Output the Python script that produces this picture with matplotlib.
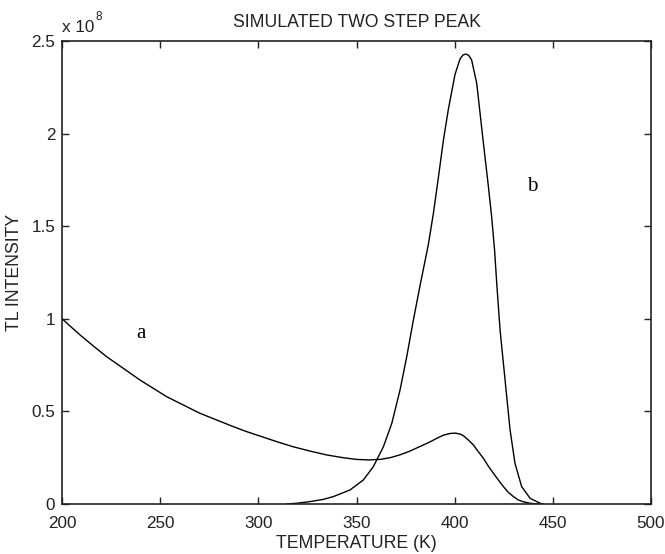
import matplotlib
matplotlib.use("Agg")
import matplotlib.pyplot as plt
from matplotlib.ticker import FuncFormatter

SCALE = 1e8

# Curve a: temperature (K) and TL intensity (units of 1e8)
temp_a = [200, 203.9, 209, 215.8, 222.6, 231.1, 239.6, 246.4, 253.2, 261.7,
          270.2, 278.7, 287.2, 294, 300.8, 309.3, 317.8, 326.3, 334.8, 343.3,
          350, 356, 362, 367.1, 372, 377.3, 382, 386.6, 391, 394.3,
          397.7, 400.3, 402.8, 404.5, 407, 409.6, 412.1, 414.7, 417.2, 419.8,
          422.3, 424.9, 427.4, 430, 432.5, 435, 438.5, 442, 445]
int_a = [1.0, 0.962, 0.914, 0.854, 0.796, 0.733, 0.67, 0.625, 0.58, 0.535,
         0.49, 0.454, 0.418, 0.391, 0.367, 0.337, 0.309, 0.286, 0.265, 0.25,
         0.241, 0.238, 0.241, 0.25, 0.265, 0.286, 0.309, 0.331, 0.355, 0.372,
         0.381, 0.383, 0.378, 0.369, 0.346, 0.319, 0.283, 0.247, 0.205, 0.166,
         0.13, 0.094, 0.063, 0.04, 0.022, 0.012, 0.004, 0.0, 0.0]

# Curve b
temp_b = [314.4, 319.5, 326.3, 333.1, 338.2, 346.7, 353.5, 358.6, 363.7, 368,
          372.2, 375.6, 379, 382.4, 384.4, 386.6, 389.2, 391.7, 394.3, 396.8,
          398.5, 400.2, 402.8, 404.3, 405.7, 407.2, 408.7, 411.3, 413, 414.7,
          417.2, 418.9, 420.4, 421.5, 423.2, 424.9, 426.6, 428.3, 430.8, 434.2,
          438.5, 443.6, 445]
int_b = [0.0, 0.004, 0.013, 0.025, 0.04, 0.076, 0.13, 0.202, 0.309, 0.436,
         0.616, 0.795, 0.994, 1.18, 1.285, 1.40, 1.57, 1.76, 1.965, 2.13,
         2.225, 2.32, 2.405, 2.426, 2.431, 2.424, 2.399, 2.273, 2.111, 1.95,
         1.72, 1.552, 1.372, 1.192, 0.94, 0.76, 0.58, 0.40, 0.22, 0.094,
         0.031, 0.004, 0.0]

x_ticks = [200, 250, 300, 350, 400, 450, 500]
y_ticks = [0, 0.5, 1, 1.5, 2, 2.5]

plt.rcParams['font.family'] = ['Liberation Sans', 'DejaVu Sans']

fig = plt.figure(figsize=(6.65, 5.54), dpi=100)
ax = fig.add_axes([62.3 / 665, 50 / 554, (650.7 - 62.3) / 665, (504 - 41.3) / 554])

ax.plot(temp_a, [v * SCALE for v in int_a], color='black', lw=1.0)
ax.plot(temp_b, [v * SCALE for v in int_b], color='black', lw=1.0)

ax.set_xlim(200, 500)
ax.set_ylim(0, 2.5 * SCALE)
ax.set_xticks(x_ticks)
ax.set_yticks([t * SCALE for t in y_ticks])
ax.yaxis.set_major_formatter(FuncFormatter(lambda v, p: f"{v / SCALE:g}"))

ax.tick_params(direction='in', length=5, width=1, top=True, right=True,
               labelsize=12.3, colors='#222222')
ax.tick_params(axis='x', pad=8.5)
ax.tick_params(axis='y', pad=5)
for s in ax.spines.values():
    s.set_linewidth(1.2)
    s.set_color('#222222')

ax.set_title('SIMULATED TWO STEP PEAK', fontsize=12.7, pad=10, color='#222222')
ax.set_xlabel('TEMPERATURE (K)', fontsize=12.7, labelpad=3, color='#222222')
ax.set_ylabel('TL INTENSITY', fontsize=12.7, labelpad=6, color='#222222')

# multiplier text "x 10^8"
ax.text(0.0, 1.0207, 'x 10', transform=ax.transAxes, fontsize=12.3,
        ha='left', va='baseline', color='#222222')
ax.text(0.0565, 1.046, '8', transform=ax.transAxes, fontsize=8.5,
        ha='left', va='baseline', color='#222222')

ax.text(239.9, 0.921 * SCALE, 'a', fontsize=15, family='Liberation Serif',
        ha='center', va='center')
ax.text(439.5, 1.718 * SCALE, 'b', fontsize=15, family='Liberation Serif',
        ha='center', va='center')

fig.savefig('out.png', dpi=100)
